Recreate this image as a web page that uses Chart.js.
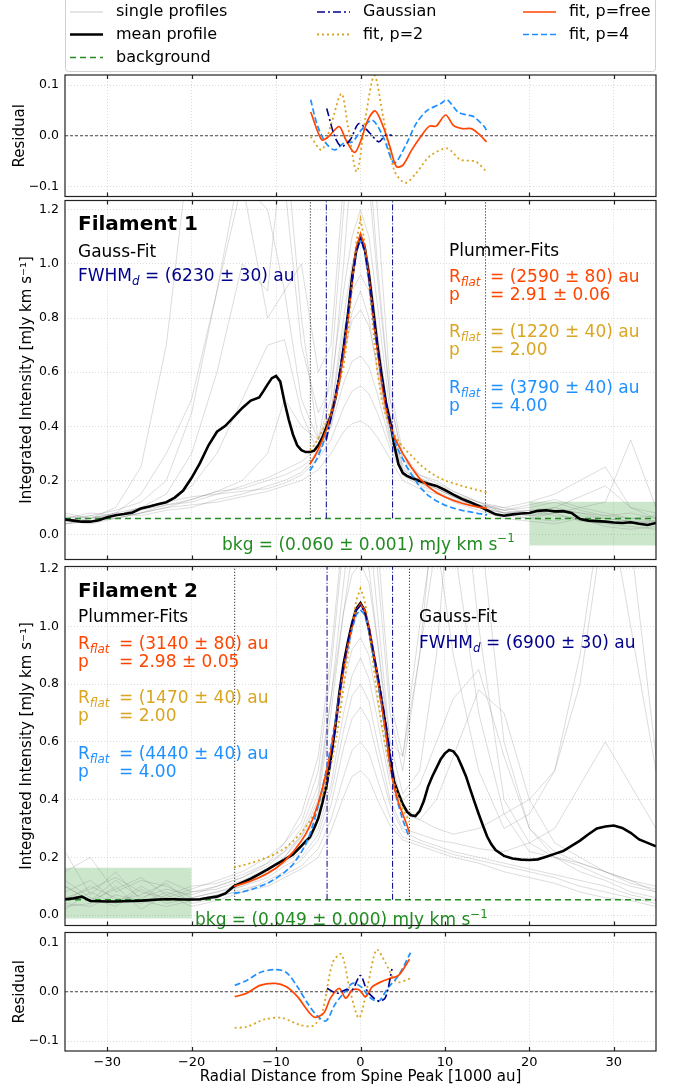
<!DOCTYPE html>
<html>
<head>
<meta charset="utf-8">
<title>Filament profiles</title>
<script src="https://cdn.jsdelivr.net/npm/chart.js@4.4.1/dist/chart.umd.min.js"></script>
<style>
  html, body { margin: 0; padding: 0; background: #fff; }
  #fig { position: relative; width: 689px; height: 1089px; overflow: hidden; }
  #fig canvas { position: absolute; left: 0; }
</style>
</head>
<body>
<div id="fig">
  <canvas id="res1" width="689" height="210" style="top:0px"></canvas>
  <canvas id="fil1" width="689" height="386" style="top:187px"></canvas>
  <canvas id="fil2" width="689" height="386" style="top:553px"></canvas>
  <canvas id="res2" width="689" height="170" style="top:919px"></canvas>
</div>
<script>
// ticks
const xTicks = [-30, -20, -10, 0, 10, 20, 30]
const residTicks = [-0.1, 0, 0.1]
const intensTicks = [0, 0.2, 0.4, 0.6, 0.8, 1.0, 1.2]

// x grid of the single profiles
const singleX = [-35, -32, -29, -26, -23, -20, -17, -14, -11, -9, -7, -5, -3.5, -2, -1, 0, 1, 2, 3.5, 5, 7, 9, 11, 14, 17, 20, 23, 26, 29, 32, 35]

// Filament 1 single profiles
const singles1 = [
  [0.06, 0.07, 0.09, 0.12, 0.2, 0.45, 0.9, 1.4, 1.6, 1.3, 0.7, 0.45, 0.55, 0.9, 1.1, 1.2, 1.1, 0.85, 0.45, 0.25, 0.2, 0.18, 0.15, 0.11, 0.08, 0.09, 0.1, 0.08, 0.06, 0.05, 0.05],
  [0.05, 0.06, 0.1, 0.25, 0.7, 1.5, 1.7, 1.3, 0.8, 0.9, 0.5, 0.35, 0.5, 1.0, 1.4, 1.6, 1.4, 1.0, 0.5, 0.28, 0.22, 0.2, 0.16, 0.12, 0.1, 0.12, 0.15, 0.2, 0.25, 0.1, 0.06],
  [0.04, 0.05, 0.07, 0.1, 0.15, 0.3, 0.6, 1.0, 0.9, 1.5, 0.8, 0.35, 0.45, 0.8, 1.0, 1.1, 1.0, 0.75, 0.4, 0.24, 0.2, 0.17, 0.14, 0.1, 0.08, 0.07, 0.08, 0.1, 0.12, 0.35, 0.1],
  [0.07, 0.06, 0.08, 0.1, 0.12, 0.18, 0.3, 0.5, 0.7, 0.72, 0.45, 0.3, 0.4, 0.65, 0.82, 0.9, 0.8, 0.6, 0.35, 0.22, 0.19, 0.17, 0.14, 0.1, 0.07, 0.06, 0.08, 0.05, 0.04, 0.03, 0.02],
  [0.05, 0.07, 0.06, 0.08, 0.1, 0.11, 0.12, 0.14, 0.16, 0.18, 0.2, 0.24, 0.3, 0.38, 0.41, 0.42, 0.4, 0.36, 0.28, 0.2, 0.17, 0.15, 0.13, 0.1, 0.08, 0.09, 0.07, 0.06, 0.05, 0.04, 0.05],
  [0.08, 0.06, 0.07, 0.09, 0.11, 0.12, 0.15, 0.16, 0.17, 0.19, 0.22, 0.28, 0.35, 0.47, 0.53, 0.55, 0.52, 0.45, 0.32, 0.22, 0.18, 0.16, 0.13, 0.11, 0.09, 0.1, 0.12, 0.09, 0.07, 0.08, 0.06],
  [0.04, 0.05, 0.08, 0.07, 0.09, 0.1, 0.13, 0.15, 0.18, 0.2, 0.23, 0.3, 0.4, 0.56, 0.64, 0.66, 0.62, 0.52, 0.34, 0.23, 0.19, 0.16, 0.12, 0.09, 0.06, 0.05, 0.04, 0.06, 0.03, 0.02, 0.03],
  [0.06, 0.08, 0.07, 0.1, 0.12, 0.14, 0.15, 0.18, 0.21, 0.24, 0.27, 0.32, 0.45, 0.67, 0.79, 0.83, 0.77, 0.62, 0.37, 0.24, 0.2, 0.17, 0.14, 0.11, 0.1, 0.08, 0.1, 0.14, 0.18, 0.1, 0.08],
  [0.05, 0.04, 0.06, 0.08, 0.1, 0.13, 0.16, 0.17, 0.2, 0.22, 0.25, 0.3, 0.45, 0.75, 0.9, 0.96, 0.9, 0.7, 0.4, 0.26, 0.21, 0.18, 0.15, 0.12, 0.08, 0.06, 0.05, 0.07, 0.06, 0.05, 0.04],
  [0.06, 0.05, 0.06, 0.08, 0.11, 0.13, 0.16, 0.2, 0.3, 0.5, 0.4, 0.35, 0.6, 1.2, 1.6, 1.8, 1.6, 1.2, 0.55, 0.3, 0.22, 0.19, 0.16, 0.12, 0.09, 0.07, 0.09, 0.08, 0.07, 0.06, 0.07],
  [0.04, 0.06, 0.08, 0.15, 0.3, 0.5, 0.9, 1.3, 1.2, 0.9, 1.0, 0.6, 0.7, 1.3, 1.5, 1.5, 1.3, 0.95, 0.5, 0.28, 0.21, 0.18, 0.15, 0.11, 0.09, 0.11, 0.13, 0.1, 0.08, 0.06, 0.05]
]

// Filament 2 single profiles
const singles2 = [
  [0.1, 0.05, 0.12, 0.06, 0.09, 0.07, 0.1, 0.13, 0.18, 0.25, 0.32, 0.5, 0.85, 1.3, 1.6, 1.7, 1.55, 1.2, 0.7, 0.5, 0.9, 1.5, 1.8, 1.0, 0.4, 0.25, 0.2, 0.18, 0.15, 0.12, 0.1],
  [0.02, 0.08, 0.04, 0.1, 0.05, 0.08, 0.09, 0.12, 0.16, 0.2, 0.28, 0.42, 0.75, 1.15, 1.4, 1.5, 1.35, 1.05, 0.6, 0.55, 1.0, 1.4, 1.3, 0.7, 0.35, 0.22, 0.2, 0.17, 0.13, 0.1, 0.08],
  [0.15, 0.2, 0.08, 0.12, 0.1, 0.06, 0.08, 0.11, 0.15, 0.2, 0.27, 0.4, 0.7, 1.05, 1.25, 1.32, 1.2, 0.95, 0.55, 0.38, 0.33, 0.3, 0.28, 0.3, 0.35, 0.4, 0.5, 0.9, 1.5, 1.0, 0.5],
  [0.05, 0.1, 0.06, 0.04, 0.08, 0.05, 0.07, 0.1, 0.14, 0.18, 0.22, 0.3, 0.45, 0.7, 0.83, 0.89, 0.82, 0.68, 0.45, 0.35, 0.33, 0.4, 0.55, 0.78, 0.7, 0.4, 0.25, 0.2, 0.15, 0.12, 0.08],
  [0.12, 0.06, 0.03, 0.09, 0.04, 0.06, 0.08, 0.1, 0.13, 0.17, 0.2, 0.28, 0.42, 0.64, 0.76, 0.8, 0.74, 0.6, 0.4, 0.3, 0.28, 0.26, 0.25, 0.23, 0.22, 0.25, 0.3, 0.45, 0.6, 0.45, 0.3],
  [0.03, 0.04, 0.1, 0.02, 0.07, 0.03, 0.05, 0.08, 0.12, 0.15, 0.19, 0.26, 0.38, 0.58, 0.68, 0.72, 0.67, 0.55, 0.38, 0.29, 0.26, 0.24, 0.22, 0.2, 0.18, 0.16, 0.14, 0.12, 0.1, 0.07, 0.05],
  [0.08, 0.12, 0.05, 0.07, 0.11, 0.04, 0.06, 0.09, 0.11, 0.14, 0.17, 0.23, 0.33, 0.48, 0.57, 0.6, 0.56, 0.47, 0.34, 0.27, 0.25, 0.23, 0.21, 0.19, 0.17, 0.15, 0.13, 0.1, 0.08, 0.06, 0.04],
  [0.04, 0.03, 0.07, 0.05, 0.03, 0.05, 0.07, 0.08, 0.1, 0.13, 0.16, 0.2, 0.29, 0.41, 0.48, 0.5, 0.47, 0.4, 0.31, 0.26, 0.24, 0.22, 0.2, 0.18, 0.15, 0.13, 0.11, 0.08, 0.06, 0.05, 0.03],
  [0.06, 0.09, 0.13, 0.08, 0.06, 0.09, 0.12, 0.15, 0.2, 0.25, 0.35, 0.55, 0.9, 1.35, 1.7, 1.85, 1.7, 1.3, 0.75, 0.55, 0.9, 1.3, 0.9, 0.5, 0.3, 0.35, 0.5, 0.8, 1.4, 1.3, 0.55],
  [0.1, 0.05, 0.09, 0.13, 0.07, 0.1, 0.11, 0.14, 0.18, 0.22, 0.27, 0.36, 0.55, 0.8, 0.92, 0.96, 0.9, 0.74, 0.48, 0.4, 0.45, 0.6, 0.75, 0.85, 0.55, 0.3, 0.22, 0.18, 0.15, 0.11, 0.09],
  [0.22, 0.07, 0.15, 0.05, 0.12, 0.08, 0.1, 0.13, 0.17, 0.22, 0.3, 0.45, 0.75, 1.05, 1.18, 1.22, 1.15, 0.95, 0.6, 0.42, 0.5, 0.9, 1.6, 1.4, 0.6, 0.3, 0.2, 0.15, 0.12, 0.08, 0.06]
]

// mean profiles
const meanX1 = [-35, -34, -33, -32, -31, -30, -29, -28, -27, -26, -25, -24, -23, -22, -21, -20, -19, -18, -17, -16, -15, -14, -13, -12,
  -11.5, -11, -10.5, -10, -9.5, -9, -8.5, -8, -7.5, -7, -6.5, -6, -5.5, -5, -4.5, -4, -3.5, -3, -2.5, -2, -1.5, -1, -0.5, 0,
  0.5, 1, 1.5, 2, 2.5, 3, 3.5, 4, 4.5, 5, 5.5, 6,
  7, 8, 9, 10, 11, 12, 13, 14, 15, 16, 17, 18, 19, 20, 21, 22, 23, 24, 25, 26, 27, 28, 29, 30, 31, 32, 33, 34, 35]
const meanY1 = [0.056, 0.052, 0.048, 0.048, 0.053, 0.064, 0.072, 0.076, 0.082, 0.097, 0.104, 0.112, 0.12, 0.137, 0.163, 0.21, 0.265, 0.33, 0.38, 0.402, 0.435, 0.468, 0.495, 0.507,
  0.53, 0.555, 0.578, 0.586, 0.565, 0.49, 0.425, 0.37, 0.33, 0.312, 0.305, 0.305, 0.31, 0.33, 0.36, 0.4, 0.44, 0.5, 0.58, 0.69, 0.81, 0.95, 1.05, 1.1,
  1.06, 0.96, 0.83, 0.7, 0.59, 0.49, 0.42, 0.33, 0.26, 0.228, 0.217, 0.21,
  0.198, 0.188, 0.18, 0.165, 0.148, 0.132, 0.12, 0.106, 0.09, 0.075, 0.07, 0.075, 0.078, 0.08, 0.088, 0.09, 0.086, 0.087, 0.08, 0.058, 0.052, 0.05, 0.048, 0.045, 0.043, 0.046, 0.04, 0.036, 0.043]

const meanX2 = [-35, -34, -33, -32, -31, -30, -29, -28, -27, -26, -25, -24, -23, -22, -21, -20, -19, -18, -17, -16, -15, -14, -13, -12, -11, -10, -9, -8, -7,
  -6.5, -6, -5.5, -5, -4.5, -4, -3.5, -3, -2.5, -2, -1.5, -1, -0.5, 0, 0.5, 1, 1.5, 2, 2.5, 3, 3.5, 4, 4.5, 5, 5.5, 6, 6.5, 7, 7.5, 8,
  8.5, 9, 9.5, 10, 10.5, 11, 11.5, 12, 12.5, 13, 13.5, 14, 14.5, 15, 15.5, 16,
  17, 18, 19, 20, 21, 22, 23, 24, 25, 26, 27, 28, 29, 30, 31, 32, 33, 34, 35]
const meanY2 = [0.055, 0.058, 0.064, 0.049, 0.048, 0.047, 0.047, 0.048, 0.049, 0.05, 0.052, 0.054, 0.055, 0.055, 0.054, 0.054, 0.055, 0.06, 0.064, 0.075, 0.1, 0.113, 0.126, 0.142, 0.158, 0.176, 0.192, 0.21, 0.24,
  0.255, 0.27, 0.3, 0.335, 0.39, 0.455, 0.545, 0.65, 0.77, 0.87, 0.945, 1.01, 1.06, 1.08, 1.055, 0.99, 0.91, 0.83, 0.74, 0.65, 0.54, 0.46, 0.42, 0.385, 0.358, 0.346, 0.343, 0.36, 0.395, 0.445,
  0.48, 0.51, 0.54, 0.56, 0.572, 0.567, 0.548, 0.515, 0.48, 0.435, 0.392, 0.35, 0.31, 0.272, 0.245, 0.225,
  0.205, 0.196, 0.192, 0.191, 0.193, 0.202, 0.212, 0.222, 0.24, 0.258, 0.28, 0.3, 0.307, 0.31, 0.302, 0.285, 0.262, 0.25, 0.238]

// Plummer fits, filament 1
const fitX1 = [-6, -5.5, -5, -4.5, -4, -3.5, -3, -2.5, -2, -1.5, -1, -0.5, 0, 0.5, 1, 1.5, 2, 2.5, 3, 3.5, 4, 4.5, 5, 5.5, 6, 7, 8, 9, 10, 11, 12, 13, 14, 15]
const fitFree1 = [0.26, 0.285, 0.315, 0.35, 0.39, 0.44, 0.5, 0.57, 0.665, 0.79, 0.93, 1.06, 1.111, 1.065, 0.95, 0.81, 0.68, 0.56, 0.47, 0.405, 0.36, 0.33, 0.3, 0.275, 0.25, 0.207, 0.178, 0.155, 0.139, 0.126, 0.116, 0.108, 0.102, 0.097]
const fitP2_1 = [0.31, 0.33, 0.355, 0.385, 0.42, 0.46, 0.51, 0.56, 0.62, 0.74, 0.91, 1.08, 1.166, 1.08, 0.93, 0.76, 0.6, 0.5, 0.44, 0.4, 0.37, 0.345, 0.325, 0.308, 0.293, 0.26, 0.235, 0.215, 0.2, 0.19, 0.18, 0.172, 0.164, 0.156]
const fitP4_1 = [0.236, 0.26, 0.29, 0.33, 0.375, 0.43, 0.5, 0.58, 0.68, 0.8, 0.93, 1.045, 1.087, 1.045, 0.93, 0.8, 0.68, 0.57, 0.47, 0.4, 0.35, 0.31, 0.28, 0.25, 0.225, 0.177, 0.145, 0.124, 0.109, 0.098, 0.09, 0.084, 0.078, 0.073]
const gaussX1 = [-4.05, -3.5, -3, -2.5, -2, -1.5, -1, -0.5, 0, 0.5, 1, 1.5, 2, 2.5, 3, 3.5, 3.8]
const gaussY1 = [0.35, 0.43, 0.51, 0.595, 0.695, 0.81, 0.935, 1.045, 1.093, 1.05, 0.95, 0.82, 0.695, 0.585, 0.49, 0.41, 0.37]

// Plummer fits, filament 2
const fitX2 = [-15, -14, -13, -12, -11, -10, -9, -8, -7, -6.5, -6, -5.5, -5, -4.5, -4, -3.5, -3, -2.5, -2, -1.5, -1, -0.5, 0, 0.5, 1, 1.5, 2, 2.5, 3, 3.5, 4, 4.5, 5, 5.5, 5.8]
const fitFree2 = [0.1, 0.108, 0.118, 0.13, 0.145, 0.163, 0.187, 0.218, 0.257, 0.28, 0.308, 0.345, 0.388, 0.44, 0.5, 0.57, 0.655, 0.755, 0.85, 0.935, 1.0, 1.055, 1.077, 1.055, 1.0, 0.92, 0.83, 0.73, 0.63, 0.52, 0.44, 0.39, 0.35, 0.312, 0.285]
const fitP2_2 = [0.165, 0.172, 0.18, 0.19, 0.2, 0.213, 0.23, 0.255, 0.285, 0.305, 0.325, 0.35, 0.38, 0.415, 0.46, 0.52, 0.59, 0.68, 0.79, 0.9, 1.0, 1.09, 1.131, 1.09, 0.99, 0.87, 0.76, 0.66, 0.58, 0.51, 0.455, 0.41, 0.37, 0.34, 0.322]
const fitP4_2 = [0.075, 0.08, 0.088, 0.098, 0.11, 0.128, 0.148, 0.175, 0.218, 0.245, 0.28, 0.325, 0.38, 0.44, 0.51, 0.585, 0.67, 0.76, 0.845, 0.925, 0.99, 1.04, 1.057, 1.04, 0.985, 0.905, 0.82, 0.72, 0.62, 0.52, 0.44, 0.38, 0.33, 0.29, 0.27]
const gaussX2 = [-3.96, -3.5, -3, -2.5, -2, -1.5, -1, -0.5, 0, 0.5, 1, 1.5, 2, 2.5, 3, 3.5, 3.8]
const gaussY2 = [0.45, 0.54, 0.645, 0.76, 0.865, 0.945, 1.01, 1.055, 1.072, 1.05, 0.995, 0.915, 0.835, 0.755, 0.665, 0.565, 0.47]

// background levels, fit ranges and background regions
const bkg1 = 0.06
const bkg2 = 0.053
const plummerEdges1 = [-5.94, 14.8]
const gaussEdges1 = [-4.05, 3.8]
const plummerEdges2 = [-14.9, 5.8]
const gaussEdges2 = [-3.96, 3.8]
const bkgRegionX1 = [20, 35]
const bkgRegionY1 = [-0.04, 0.122]
const bkgRegionX2 = [-35, -20]
const bkgRegionY2 = [-0.012, 0.164]

// residuals, filament 1
const res1GaussX = [-4.0, -3.04, -2.26, -1.22, -0.18, 1.12, 2.17, 2.95, 3.73]
const res1GaussY = [0.054, -0.002, -0.021, -0.008, 0.024, 0.005, -0.012, 0.001, 0.001]
const res1FreeX = [-5.9, -4.6, -3.82, -2.52, -1.74, -0.7, 0.08, 0.86, 1.75, 2.69, 3.47, 4.25, 5.03, 6.07, 7.12, 8.16, 8.95, 10.09, 11.03, 12.07, 13.1, 13.9, 14.93]
const res1FreeY = [0.047, -0.008, -0.002, 0.018, -0.008, -0.033, -0.008, 0.031, 0.049, 0.018, -0.021, -0.061, -0.058, -0.028, -0.002, 0.019, 0.019, 0.041, 0.02, 0.014, 0.014, 0.005, -0.012]
const res1P2X = [-5.9, -4.6, -3.56, -2.26, -1.48, -0.44, 0.6, 1.65, 2.69, 3.99, 5.29, 6.59, 8.16, 10.25, 11.81, 13.63, 14.93]
const res1P2Y = [-0.002, -0.028, 0.018, 0.083, 0.018, -0.071, 0.037, 0.119, 0.037, -0.068, -0.093, -0.074, -0.041, -0.025, -0.047, -0.051, -0.071]
const res1P4X = [-5.9, -5.1, -4.08, -3.04, -2.0, -0.96, 0.08, 1.38, 2.69, 3.99, 5.29, 6.59, 7.9, 9.47, 10.25, 11.55, 12.6, 13.37, 14.67, 14.9]
const res1P4Y = [0.071, 0.02, -0.015, -0.028, -0.015, -0.012, 0.011, 0.031, -0.002, -0.054, -0.021, 0.024, 0.05, 0.063, 0.071, 0.047, 0.041, 0.038, 0.018, 0.011]

// residuals, filament 2
const res2GaussX = [-3.96, -2.78, -1.74, -0.96, -0.02, 0.86, 2.17, 2.95, 3.73]
const res2GaussY = [0.007, -0.003, 0.004, 0.004, 0.033, 0.0, -0.019, -0.012, 0.046]
const res2FreeX = [-14.9, -13.47, -11.9, -10.08, -8.78, -7.47, -6.17, -5.39, -4.34, -3.56, -2.52, -1.74, -0.96, -0.18, 0.6, 1.38, 2.43, 3.47, 4.51, 5.8]
const res2FreeY = [-0.01, -0.003, 0.013, 0.017, 0.01, -0.01, -0.04, -0.052, -0.043, -0.013, 0.007, -0.013, 0.004, 0.004, -0.01, 0.01, 0.02, 0.027, 0.033, 0.066]
const res2P2X = [-14.9, -13.47, -11.38, -9.3, -7.21, -5.65, -4.6, -3.3, -2.26, -1.22, -0.18, 0.86, 1.9, 2.95, 4.25, 5.92]
const res2P2Y = [-0.073, -0.071, -0.056, -0.053, -0.067, -0.069, -0.046, 0.059, 0.076, 0.001, -0.053, 0.013, 0.085, 0.059, 0.02, 0.027]
const res2P4X = [-14.9, -13.47, -11.9, -10.08, -8.78, -7.47, -6.17, -5.12, -4.08, -3.04, -2.0, -0.96, 0.08, 1.12, 2.17, 3.21, 4.51, 5.92]
const res2P4Y = [0.013, 0.023, 0.039, 0.045, 0.039, 0.01, -0.026, -0.049, -0.059, -0.026, -0.003, 0.017, 0.01, -0.012, -0.019, 0.007, 0.033, 0.079]

const NAVY = '#00008b'
const ORANGE = '#ff4500'
const GOLD = '#daa520'
const BLUE = '#1e90ff'
const GREEN = '#228b22'

Chart.defaults.font.family = "'DejaVu Sans', sans-serif"
Chart.defaults.color = '#000'

const S = {
  gray: { borderColor: 'rgba(128,128,128,0.28)', borderWidth: 1 },
  mean: { borderColor: '#000', borderWidth: 2.6 },
  gauss: { borderColor: NAVY, borderWidth: 1.6, borderDash: [8, 3, 2, 3] },
  free: { borderColor: ORANGE, borderWidth: 1.7 },
  p2: { borderColor: GOLD, borderWidth: 1.8, borderDash: [2, 3] },
  p4: { borderColor: BLUE, borderWidth: 1.7, borderDash: [6, 3] },
  bkg: { borderColor: GREEN, borderWidth: 1.5, borderDash: [6, 4] },
  edgeP: { borderColor: '#000', borderWidth: 1, borderDash: [1, 2] },
  edgeG: { borderColor: NAVY, borderWidth: 1, borderDash: [6, 2, 1, 2] },
  zero: { borderColor: '#444', borderWidth: 1, borderDash: [3, 2] }
}

function pts(xs, ys) {
  return xs.map((x, i) => ({ x: x, y: ys[i] }))
}

function line(xs, ys, style, order, tension) {
  return Object.assign({ data: pts(xs, ys), order: order, pointRadius: 0, fill: false, tension: tension || 0 }, style)
}

function fmt(v) {
  const s = (Math.abs(v) < 1e-9 ? 0 : v).toFixed(1)
  return s.replace('-', '\u2212')
}

// rich text with sub/superscripts
function drawRich(ctx, x, y, size, parts) {
  let cx = x
  parts.forEach(p => {
    const fs = p.sub || p.sup ? size * 0.7 : size
    ctx.font = (p.italic ? 'italic ' : '') + (p.bold ? 'bold ' : '') + fs + "px 'DejaVu Sans'"
    ctx.fillStyle = p.color || '#000'
    const dy = p.sub ? size * 0.25 : p.sup ? -size * 0.42 : 0
    ctx.fillText(p.t, cx, y + dy)
    cx += ctx.measureText(p.t).width
  })
}

function textLayer(items) {
  return {
    id: 'textLayer',
    afterDatasetsDraw(chart) {
      const { ctx, chartArea: a } = chart
      ctx.save()
      ctx.textBaseline = 'alphabetic'
      ctx.textAlign = 'left'
      items.forEach(it => drawRich(ctx, a.left + it.dx, a.top + it.dy, it.size, it.parts))
      ctx.restore()
    }
  }
}

// frame + inward ticks on top and bottom
const framePlugin = {
  id: 'frame',
  afterDraw(chart) {
    const { ctx, chartArea: a, scales } = chart
    ctx.save()
    ctx.strokeStyle = '#222'
    ctx.lineWidth = 1.2
    ctx.strokeRect(a.left, a.top, a.right - a.left, a.bottom - a.top)
    ctx.beginPath()
    xTicks.forEach(v => {
      const px = Math.round(scales.x.getPixelForValue(v)) + 0.5
      ctx.moveTo(px, a.top); ctx.lineTo(px, a.top + 4)
      ctx.moveTo(px, a.bottom); ctx.lineTo(px, a.bottom - 4)
    })
    ctx.stroke()
    ctx.restore()
  }
}

const legendItems = [
  { label: 'single profiles', style: S.gray, col: 0, row: 0 },
  { label: 'mean profile', style: S.mean, col: 0, row: 1 },
  { label: 'background', style: S.bkg, col: 0, row: 2 },
  { label: 'Gaussian', style: S.gauss, col: 1, row: 0 },
  { label: 'fit, p=2', style: S.p2, col: 1, row: 1 },
  { label: 'fit, p=free', style: S.free, col: 2, row: 0 },
  { label: 'fit, p=4', style: S.p4, col: 2, row: 1 }
]

const legendPlugin = {
  id: 'figLegend',
  afterDraw(chart) {
    const ctx = chart.ctx
    const a = chart.chartArea
    const colX = [70, 317, 523]
    const rowY = [12, 34.5, 57.5]
    ctx.save()
    const l = a.left + 0.5, r = a.right - 0.5, t = -6, b = 71.5, rad = 3
    ctx.beginPath()
    ctx.moveTo(l + rad, t); ctx.lineTo(r - rad, t); ctx.quadraticCurveTo(r, t, r, t + rad)
    ctx.lineTo(r, b - rad); ctx.quadraticCurveTo(r, b, r - rad, b)
    ctx.lineTo(l + rad, b); ctx.quadraticCurveTo(l, b, l, b - rad)
    ctx.lineTo(l, t + rad); ctx.quadraticCurveTo(l, t, l + rad, t)
    ctx.fillStyle = '#fff'
    ctx.fill()
    ctx.strokeStyle = '#d0d0d0'
    ctx.lineWidth = 1
    ctx.stroke()
    legendItems.forEach(it => {
      const x = colX[it.col], y = rowY[it.row]
      ctx.beginPath()
      ctx.setLineDash(it.style.borderDash || [])
      ctx.strokeStyle = it.style.borderColor
      ctx.lineWidth = it.style.borderWidth + (it.label === 'single profiles' ? 0.5 : 0)
      ctx.moveTo(x, y); ctx.lineTo(x + 33, y)
      ctx.stroke()
      ctx.setLineDash([])
      ctx.fillStyle = '#000'
      ctx.font = "16px 'DejaVu Sans'"
      ctx.textBaseline = 'middle'
      ctx.fillText(it.label, x + 46, y)
    })
    ctx.restore()
  }
}

function plummerBlock(dx, dy, color, rflat, pText) {
  return [
    { dx: dx, dy: dy, size: 17, parts: [{ t: 'R', color: color }, { t: 'flat', sub: true, italic: true, color: color }] },
    { dx: dx + 41, dy: dy, size: 17, parts: [{ t: '= ' + rflat, color: color }] },
    { dx: dx, dy: dy + 18, size: 17, parts: [{ t: 'p', color: color }] },
    { dx: dx + 41, dy: dy + 18, size: 17, parts: [{ t: '= ' + pText, color: color }] }
  ]
}

const fil1Texts = [
  { dx: 13, dy: 29, size: 20, parts: [{ t: 'Filament 1', bold: true }] },
  { dx: 13, dy: 56, size: 17, parts: [{ t: 'Gauss-Fit' }] },
  { dx: 13, dy: 80, size: 17, parts: [{ t: 'FWHM', color: NAVY }, { t: 'd', sub: true, italic: true, color: NAVY }, { t: ' = (6230 \u00b1 30) au', color: NAVY }] },
  { dx: 384, dy: 55, size: 17, parts: [{ t: 'Plummer-Fits' }] },
  ...plummerBlock(384, 81, ORANGE, '(2590 \u00b1 80) au', '2.91 \u00b1 0.06'),
  ...plummerBlock(384, 136, GOLD, '(1220 \u00b1 40) au', '2.00'),
  ...plummerBlock(384, 192, BLUE, '(3790 \u00b1 40) au', '4.00'),
  { dx: 157, dy: 349, size: 17, parts: [{ t: 'bkg = (0.060 \u00b1 0.001) mJy km s', color: GREEN }, { t: '\u22121', sup: true, color: GREEN }] }
]

const fil2Texts = [
  { dx: 13, dy: 30, size: 20, parts: [{ t: 'Filament 2', bold: true }] },
  { dx: 13, dy: 55, size: 17, parts: [{ t: 'Plummer-Fits' }] },
  ...plummerBlock(13, 82, ORANGE, '(3140 \u00b1 80) au', '2.98 \u00b1 0.05'),
  ...plummerBlock(13, 136, GOLD, '(1470 \u00b1 40) au', '2.00'),
  ...plummerBlock(13, 192, BLUE, '(4440 \u00b1 40) au', '4.00'),
  { dx: 354, dy: 55, size: 17, parts: [{ t: 'Gauss-Fit' }] },
  { dx: 354, dy: 81, size: 17, parts: [{ t: 'FWHM', color: NAVY }, { t: 'd', sub: true, italic: true, color: NAVY }, { t: ' = (6900 \u00b1 30) au', color: NAVY }] },
  { dx: 130, dy: 358.5, size: 17, parts: [{ t: 'bkg = (0.049 \u00b1 0.000) mJy km s', color: GREEN }, { t: '\u22121', sup: true, color: GREEN }] }
]

function xScale(showLabels) {
  return {
    type: 'linear', min: -35, max: 35,
    afterBuildTicks: s => { s.ticks = xTicks.map(v => ({ value: v })) },
    afterFit: s => { s.height = showLabels ? 38 : 0 },
    grid: { color: 'rgba(0,0,0,0.14)', drawTicks: false },
    border: { display: false, dash: [1, 2] },
    ticks: { display: showLabels, autoSkip: false, maxRotation: 0, padding: 4, color: '#000', font: { size: 13 }, callback: v => String(v).replace('-', '\u2212') },
    title: { display: showLabels, text: 'Radial Distance from Spine Peak [1000 au]', color: '#000', font: { size: 15 }, padding: { top: 0, bottom: 3 } }
  }
}

function yScale(min, max, ticks, title, titlePad) {
  return {
    type: 'linear', min: min, max: max,
    afterBuildTicks: s => { s.ticks = ticks.map(v => ({ value: v })) },
    afterFit: s => { s.width = 65 },
    grid: { color: 'rgba(0,0,0,0.14)', drawTicks: false },
    border: { display: false, dash: [1, 2] },
    ticks: { autoSkip: false, padding: 6, color: '#000', font: { size: 12.5 }, callback: v => fmt(v) },
    title: { display: true, text: title, color: '#000', font: { size: 15 }, padding: { top: titlePad, bottom: 0 } }
  }
}

function makeChart(id, datasets, padding, scales, plugins) {
  return new Chart(document.getElementById(id), {
    type: 'line',
    data: { datasets: datasets },
    options: {
      responsive: false,
      animation: false,
      events: [],
      layout: { padding: padding },
      elements: { point: { radius: 0 } },
      plugins: { legend: { display: false }, tooltip: { enabled: false } },
      scales: scales
    },
    plugins: plugins
  })
}

function filamentDatasets(f) {
  const ds = []
  ds.push({ data: pts(f.regionX, [f.regionY[1], f.regionY[1]]), fill: { value: f.regionY[0] }, backgroundColor: 'rgba(0,128,0,0.2)', borderWidth: 0, pointRadius: 0, order: 9 })
  f.singles.forEach(ys => ds.push(line(singleX, ys, S.gray, 8)))
  ds.push(line([-35, 35], [f.bkg, f.bkg], S.bkg, 7))
  f.plummerEdges.forEach(x => ds.push(line([x, x], [f.bkg, 1.4], S.edgeP, 6)))
  f.gaussEdges.forEach(x => ds.push(line([x, x], [f.bkg, 1.4], S.edgeG, 6)))
  ds.push(line(f.meanX, f.meanY, S.mean, 5))
  ds.push(line(f.fitX, f.p2, S.p2, 4))
  ds.push(line(f.fitX, f.p4, S.p4, 3))
  ds.push(line(f.fitX, f.free, S.free, 2))
  ds.push(line(f.gaussX, f.gauss, S.gauss, 1))
  return ds
}

function residualDatasets(r) {
  return [
    line([-35, 35], [0, 0], S.zero, 6),
    line(r.p2X, r.p2Y, S.p2, 4, 0.3),
    line(r.p4X, r.p4Y, S.p4, 3, 0.3),
    line(r.freeX, r.freeY, S.free, 2, 0.3),
    line(r.gaussX, r.gaussY, S.gauss, 1, 0.3)
  ]
}

// Residual panel 1 (with legend)
makeChart('res1',
  residualDatasets({ p2X: res1P2X, p2Y: res1P2Y, p4X: res1P4X, p4Y: res1P4Y, freeX: res1FreeX, freeY: res1FreeY, gaussX: res1GaussX, gaussY: res1GaussY }),
  { top: 75, bottom: 13, left: 0, right: 33 },
  { x: xScale(false), y: yScale(-0.12, 0.12, residTicks, 'Residual', 11) },
  [framePlugin, legendPlugin])

// Filament 1
makeChart('fil1',
  filamentDatasets({ regionX: bkgRegionX1, regionY: bkgRegionY1, singles: singles1, bkg: bkg1, plummerEdges: plummerEdges1, gaussEdges: gaussEdges1,
    meanX: meanX1, meanY: meanY1, fitX: fitX1, p2: fitP2_1, p4: fitP4_1, free: fitFree1, gaussX: gaussX1, gauss: gaussY1 }),
  { top: 10, bottom: 10, left: 0, right: 33 },
  { x: xScale(false), y: yScale(-0.0917, 1.234, intensTicks, 'Integrated Intensity [mJy km s\u207b\u00b9]', 18) },
  [framePlugin, textLayer(fil1Texts)])

// Filament 2
makeChart('fil2',
  filamentDatasets({ regionX: bkgRegionX2, regionY: bkgRegionY2, singles: singles2, bkg: bkg2, plummerEdges: plummerEdges2, gaussEdges: gaussEdges2,
    meanX: meanX2, meanY: meanY2, fitX: fitX2, p2: fitP2_2, p4: fitP4_2, free: fitFree2, gaussX: gaussX2, gauss: gaussY2 }),
  { top: 10, bottom: 10, left: 0, right: 33 },
  { x: xScale(false), y: yScale(-0.036, 1.207, intensTicks, 'Integrated Intensity [mJy km s\u207b\u00b9]', 18) },
  [framePlugin, textLayer(fil2Texts)])

// Residual panel 2
makeChart('res2',
  residualDatasets({ p2X: res2P2X, p2Y: res2P2Y, p4X: res2P4X, p4Y: res2P4Y, freeX: res2FreeX, freeY: res2FreeY, gaussX: res2GaussX, gaussY: res2GaussY }),
  { top: 10, bottom: 0, left: 0, right: 33 },
  { x: xScale(true), y: yScale(-0.12, 0.12, residTicks, 'Residual', 11) },
  [framePlugin])
</script>
</body>
</html>
